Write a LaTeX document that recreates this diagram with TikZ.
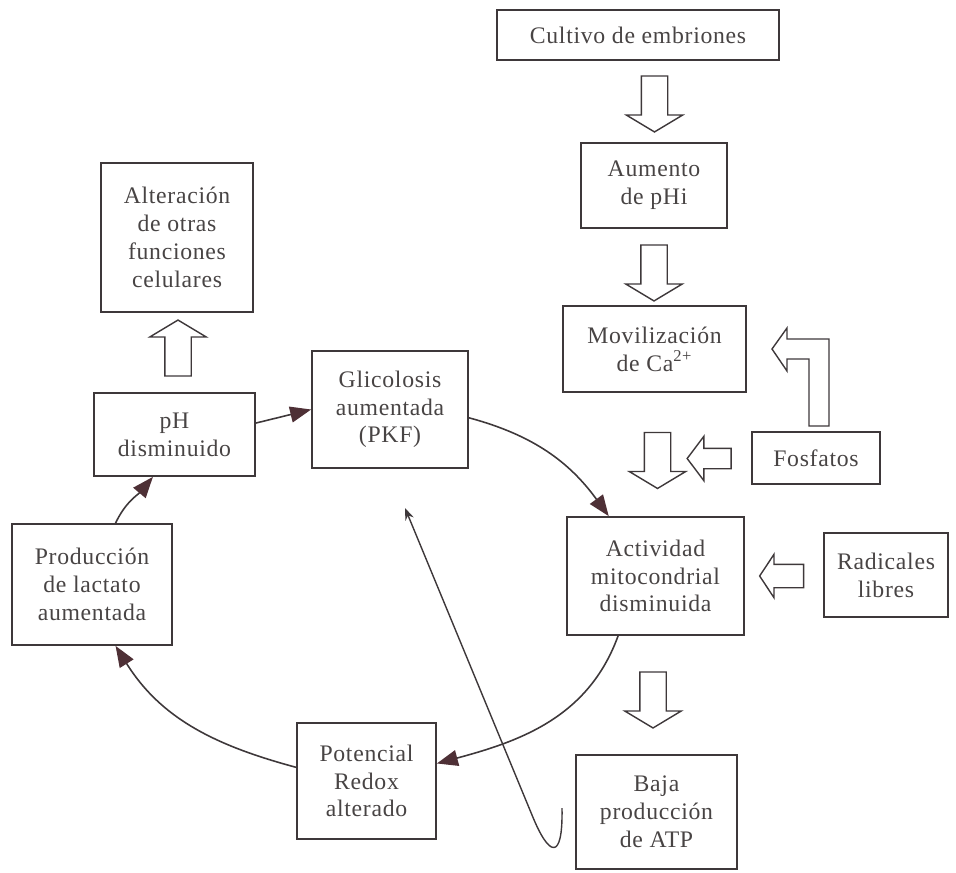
\documentclass[tikz,border=0pt]{standalone}
\usepackage{fontspec}
\setmainfont[LetterSpace=3]{Liberation Serif}
\usepackage{tikz}
\usetikzlibrary{arrows.meta,shapes.arrows,calc}

\definecolor{lncol}{RGB}{62,56,58}
\definecolor{headcol}{RGB}{78,48,54}
\definecolor{txtcol}{RGB}{72,68,68}

\begin{document}
\begin{tikzpicture}[
  x=0.02cm, y=-0.02cm,
  box/.style={draw=lncol, line width=1pt, inner sep=0pt, align=center, text=txtcol,
    font=\fontsize{13.5}{15.8}\selectfont},
  arr/.style={-{Triangle[length=4.2mm, width=3.2mm, color=headcol]}, draw=lncol, line width=0.9pt},
  thinarr/.style={-{Stealth[length=2.4mm, width=1.8mm]}, draw=lncol, line width=0.8pt},
  blk/.style={single arrow, draw=lncol, line width=0.8pt, inner xsep=0pt, inner ysep=0.25cm,
    minimum height=1.12cm, single arrow head extend=0.3cm, single arrow tip angle=118},
  blksm/.style={blk, minimum height=0.88cm, inner ysep=0.19cm,
    single arrow head extend=0.24cm, single arrow tip angle=106}
]
  \useasboundingbox (0,0) rectangle (956,872);

  % right column
  \node[box, minimum width=5.64cm, minimum height=1.0cm] (cult) at (638,35) {Cultivo de embriones};
  \node[box, minimum width=2.92cm, minimum height=1.7cm] (aum) at (654,185.5) {Aumento\\de pHi};
  \node[box, minimum width=3.66cm, minimum height=1.72cm] (mov) at (654.5,349) {Movilización\\de Ca\textsuperscript{2+}};
  \node[box, minimum width=2.56cm, minimum height=1.04cm] (fosf) at (816,458) {Fosfatos};
  \node[box, minimum width=3.54cm, minimum height=2.36cm] (act) at (655.5,576) {Actividad\\mitocondrial\\disminuida};
  \node[box, minimum width=2.48cm, minimum height=1.68cm] (rad) at (886,575) {Radicales\\libres};
  \node[box, minimum width=3.22cm, minimum height=2.28cm] (baja) at (656.5,812) {Baja\\producción\\de ATP};

  % cycle
  \node[box, minimum width=3.12cm, minimum height=2.34cm] (gli) at (390,409.5) {Glicolosis\\aumentada\\(PKF)};
  \node[box, minimum width=2.78cm, minimum height=2.32cm] (pot) at (366.5,781) {Potencial\\Redox\\alterado};
  \node[box, minimum width=3.2cm, minimum height=2.42cm] (prod) at (92,584.5) {Producción\\de lactato\\aumentada};
  \node[box, minimum width=3.22cm, minimum height=1.66cm] (ph) at (174.5,434.5) {pH\\disminuido};
  \node[box, minimum width=3.04cm, minimum height=2.98cm] (alt) at (177,237.5) {Alteración\\de otras\\funciones\\celulares};

  % hollow arrows
  \node[blk, rotate=-90] (b1) at (654.5,100) {};
  \node[blk, rotate=-90] (b2) at (654,269) {};
  \node[blk, rotate=-90] (b3) at (657.5,456.5) {};
  \node[blk, rotate=-90] (b4) at (653,696) {};
  \node[blk, rotate=90] (b5) at (178,352) {};
  \node[blksm, rotate=180] (b6) at (713,458.5) {};
  \node[blksm, rotate=180, inner ysep=0.22cm, single arrow head extend=0.2cm,
    single arrow tip angle=113] (b7) at (785.5,576) {};
  \draw[lncol, line width=0.8pt] (809,426) -- (809,359) -- (787,359) -- (787,371) -- (772,349)
    -- (787,328) -- (787,339) -- (829,339) -- (829,426) -- cycle;

  % cycle arrows
  \draw[arr] (ph.8) -- (gli.west);
  \draw[arr] (gli.-6) to[out=-15, in=126] (act.128);
  \draw[arr] (act.-122) to[out=-110, in=15] (pot.14);
  \draw[arr] (pot.169) to[out=165, in=-58] (prod.-69);
  \draw[arr] (prod.69) to[out=65, in=-130] (ph.-117);

  \coordinate (hk) at (562,808);
  \coordinate (tip) at (405,508);
  \draw[thinarr] (hk) .. controls (563,862) and (549,857) .. (532,815) -- (tip);
\end{tikzpicture}
\end{document}
